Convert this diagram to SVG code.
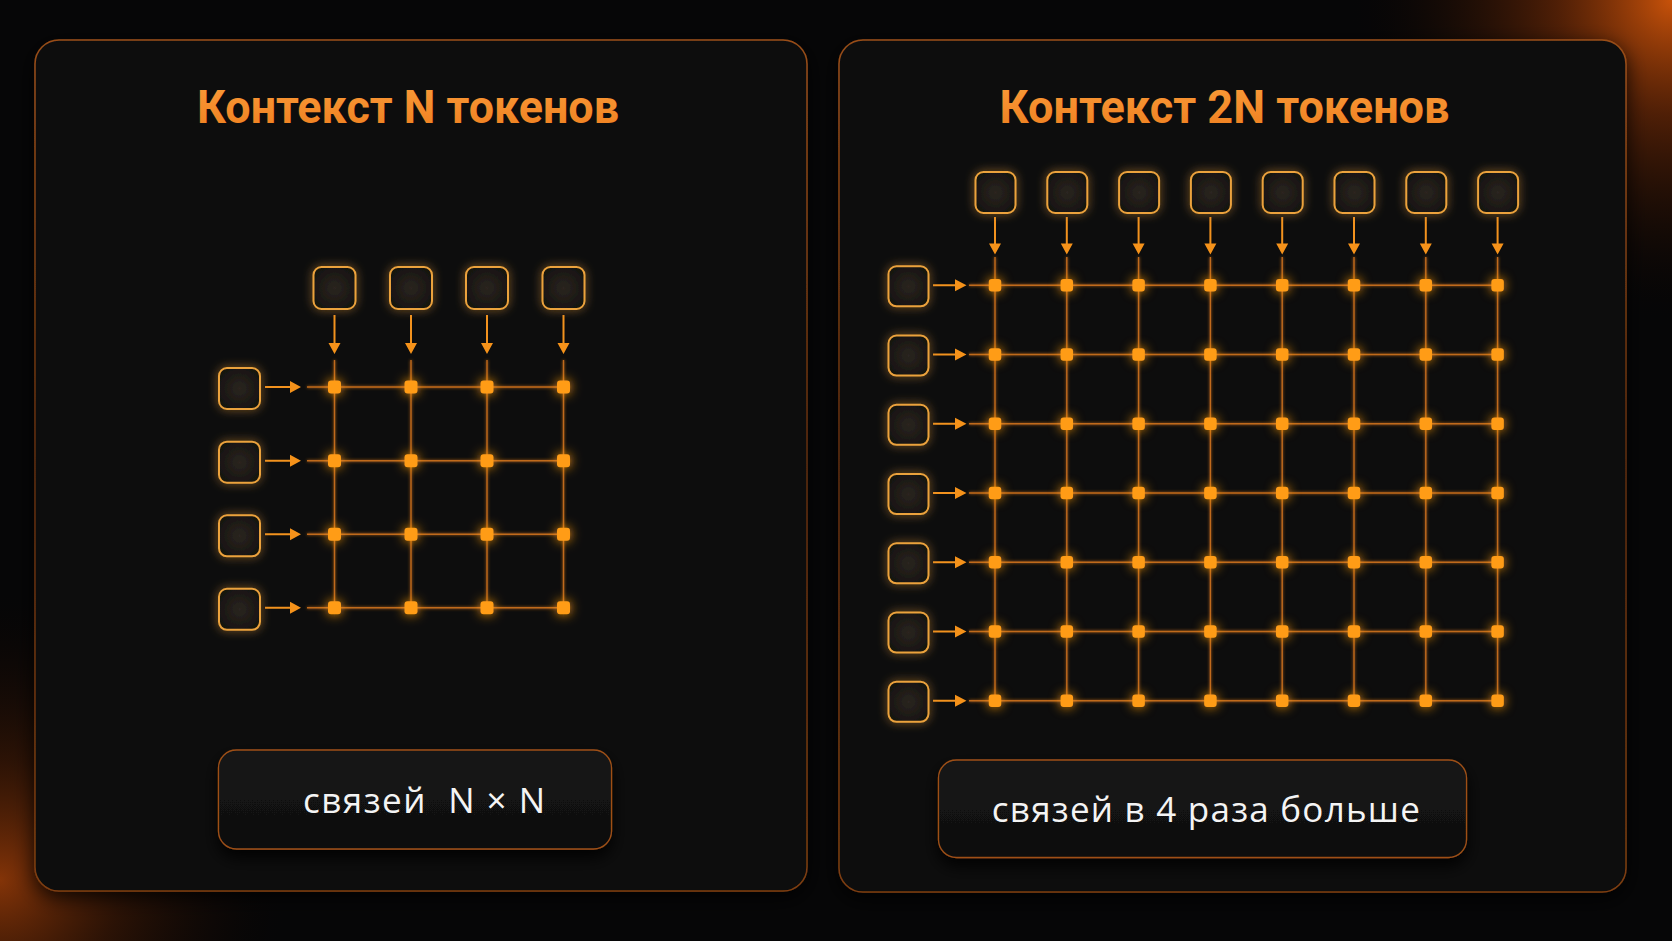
<svg xmlns="http://www.w3.org/2000/svg" width="1672" height="941" viewBox="0 0 1672 941">
<defs>
<radialGradient id="glowTR" cx="1672" cy="0" r="330" gradientUnits="userSpaceOnUse">
<stop offset="0" stop-color="#D2560A" stop-opacity="0.95"/>
<stop offset="0.35" stop-color="#8A3306" stop-opacity="0.55"/>
<stop offset="1" stop-color="#000" stop-opacity="0"/>
</radialGradient>
<radialGradient id="glowBL" cx="0" cy="880" r="300" gradientUnits="userSpaceOnUse">
<stop offset="0" stop-color="#9A3C08" stop-opacity="0.85"/>
<stop offset="0.4" stop-color="#5A2204" stop-opacity="0.45"/>
<stop offset="1" stop-color="#000" stop-opacity="0"/>
</radialGradient>
<linearGradient id="panelFill" x1="0" y1="0" x2="0" y2="1">
<stop offset="0" stop-color="#101011"/>
<stop offset="1" stop-color="#0b0b0c"/>
</linearGradient>
<linearGradient id="panelStroke" x1="0" y1="0" x2="0" y2="1">
<stop offset="0" stop-color="#9A4E18"/>
<stop offset="0.5" stop-color="#5E2C0E"/>
<stop offset="1" stop-color="#7E3E12"/>
</linearGradient>
<linearGradient id="titleFill" x1="0" y1="0" x2="0" y2="1">
<stop offset="0" stop-color="#FA9C3A"/>
<stop offset="1" stop-color="#EE7E1E"/>
</linearGradient>
<radialGradient id="tokFill" cx="0.5" cy="0.5" r="0.6">
<stop offset="0" stop-color="#2a2520"/>
<stop offset="1" stop-color="#15120f"/>
</radialGradient>
<linearGradient id="boxFill" x1="0" y1="0" x2="0" y2="1">
<stop offset="0" stop-color="#151515"/>
<stop offset="1" stop-color="#0f0f0f"/>
</linearGradient>
<filter id="panelShadow" x="-10%" y="-10%" width="120%" height="120%">
<feGaussianBlur in="SourceAlpha" stdDeviation="10"/>
<feOffset dy="6"/>
<feComponentTransfer><feFuncA type="linear" slope="0.8"/></feComponentTransfer>
<feMerge><feMergeNode/><feMergeNode in="SourceGraphic"/></feMerge>
</filter>
<filter id="boxShadow" x="-20%" y="-30%" width="140%" height="170%">
<feGaussianBlur in="SourceAlpha" stdDeviation="8"/>
<feOffset dy="8"/>
<feComponentTransfer><feFuncA type="linear" slope="0.9"/></feComponentTransfer>
<feMerge><feMergeNode/><feMergeNode in="SourceGraphic"/></feMerge>
</filter>
<filter id="glow" x="-60%" y="-60%" width="220%" height="220%">
<feGaussianBlur in="SourceGraphic" stdDeviation="5" result="b"/>
<feComponentTransfer in="b" result="b2"><feFuncA type="linear" slope="0.75"/></feComponentTransfer>
<feMerge><feMergeNode in="b2"/><feMergeNode in="SourceGraphic"/></feMerge>
</filter>
<filter id="nodeGlow" x="-150%" y="-150%" width="400%" height="400%">
<feGaussianBlur in="SourceGraphic" stdDeviation="6" result="b"/>
<feComponentTransfer in="b" result="b2"><feFuncA type="linear" slope="1"/></feComponentTransfer>
<feMerge><feMergeNode in="b2"/><feMergeNode in="SourceGraphic"/></feMerge>
</filter>
<filter id="lineGlow" x="-5%" y="-5%" width="110%" height="110%">
<feGaussianBlur in="SourceGraphic" stdDeviation="1.5" result="b"/>
<feMerge><feMergeNode in="b"/><feMergeNode in="SourceGraphic"/></feMerge>
</filter>
</defs>
<style>
.panel{fill:url(#panelFill);stroke:url(#panelStroke);stroke-width:1.5}
.title{font-family:Roboto,"Liberation Sans",sans-serif;font-weight:700;font-size:46px;fill:url(#titleFill);text-anchor:middle}
.tok{fill:url(#tokFill);stroke:#EBA23C;stroke-width:2}
.grid{stroke:#C06A1C;stroke-width:1.4;fill:none}
.arr{stroke:#F2921E;stroke-width:2;fill:none}
.head{fill:#F5921A}
.node{fill:#FF9C16}
.lbox{fill:url(#boxFill);stroke:#9E5018;stroke-width:1.3}
.label{font-family:"Open Sans","Liberation Sans",sans-serif;font-size:35px;fill:#F4F4F4;text-anchor:middle}
</style>
<rect x="0" y="0" width="1672" height="941" fill="#060607"/>
<rect x="0" y="0" width="1672" height="941" fill="url(#glowTR)"/>
<rect x="0" y="0" width="1672" height="941" fill="url(#glowBL)"/>

<g id="panel-left">
<rect class="panel" x="35" y="40" width="772" height="851" rx="24" filter="url(#panelShadow)"/>
<text class="title" x="408" y="123" textLength="422" lengthAdjust="spacingAndGlyphs">Контекст N токенов</text>
</g>
<g id="panel-right">
<rect class="panel" x="839" y="40" width="787" height="852" rx="24" filter="url(#panelShadow)"/>
<text class="title" x="1224.5" y="123" textLength="450" lengthAdjust="spacingAndGlyphs">Контекст 2N токенов</text>
</g>

<g id="connectors">
<g id="grid-left" filter="url(#lineGlow)">
<path class="grid" d="M307 387H570M307 460.7H570M307 534.3H570M307 607.8H570M334.5 360V607.8M411 360V607.8M487 360V607.8M563.5 360V607.8"/>
</g>
<g id="arrows-left">
<path class="arr" d="M334.5 315V344M411 315V344M487 315V344M563.5 315V344M265 387H291M265 460.7H291M265 534.3H291M265 607.8H291"/>
<path class="head" d="M328.5 343h12l-6 11zM405 343h12l-6 11zM481 343h12l-6 11zM557.5 343h12l-6 11zM290 381v12l11 -6zM290 454.7v12l11 -6zM290 528.3v12l11 -6zM290 601.8v12l11 -6z"/>
</g>
<g id="grid-right" filter="url(#lineGlow)">
<path class="grid" d="M969 285.3H1497.6M969 354.55H1497.6M969 423.8H1497.6M969 493.05H1497.6M969 562.3H1497.6M969 631.55H1497.6M969 700.8H1497.6M995 257V700.8M1066.8 257V700.8M1138.6 257V700.8M1210.4 257V700.8M1282.2 257V700.8M1354 257V700.8M1425.8 257V700.8M1497.6 257V700.8"/>
</g>
<g id="arrows-right">
<path class="arr" d="M995 217V244M1066.8 217V244M1138.6 217V244M1210.4 217V244M1282.2 217V244M1354 217V244M1425.8 217V244M1497.6 217V244M933 285.3H956M933 354.55H956M933 423.8H956M933 493.05H956M933 562.3H956M933 631.55H956M933 700.8H956"/>
<path class="head" d="M989 243.5h12l-6 11zM1060.8 243.5h12l-6 11zM1132.6 243.5h12l-6 11zM1204.4 243.5h12l-6 11zM1276.2 243.5h12l-6 11zM1348 243.5h12l-6 11zM1419.8 243.5h12l-6 11zM1491.6 243.5h12l-6 11zM955 279.3v12l11.5 -6zM955 348.55v12l11.5 -6zM955 417.8v12l11.5 -6zM955 487.05v12l11.5 -6zM955 556.3v12l11.5 -6zM955 625.55v12l11.5 -6zM955 694.8v12l11.5 -6z"/>
</g>
</g>

<g id="tokens-left" filter="url(#glow)">
<rect id="tl-top-1" class="tok" x="313.5" y="267" width="42" height="42" rx="8"/>
<rect id="tl-top-2" class="tok" x="390" y="267" width="42" height="42" rx="8"/>
<rect id="tl-top-3" class="tok" x="466" y="267" width="42" height="42" rx="8"/>
<rect id="tl-top-4" class="tok" x="542.5" y="267" width="42" height="42" rx="8"/>
<rect id="tl-row-1" class="tok" x="219" y="368" width="41" height="41" rx="8"/>
<rect id="tl-row-2" class="tok" x="219" y="441.7" width="41" height="41" rx="8"/>
<rect id="tl-row-3" class="tok" x="219" y="515.3" width="41" height="41" rx="8"/>
<rect id="tl-row-4" class="tok" x="219" y="588.8" width="41" height="41" rx="8"/>
</g>
<g id="nodes-left" filter="url(#nodeGlow)">
<rect class="node" x="328" y="380.5" width="13" height="13" rx="3"/>
<rect class="node" x="404.5" y="380.5" width="13" height="13" rx="3"/>
<rect class="node" x="480.5" y="380.5" width="13" height="13" rx="3"/>
<rect class="node" x="557" y="380.5" width="13" height="13" rx="3"/>
<rect class="node" x="328" y="454.2" width="13" height="13" rx="3"/>
<rect class="node" x="404.5" y="454.2" width="13" height="13" rx="3"/>
<rect class="node" x="480.5" y="454.2" width="13" height="13" rx="3"/>
<rect class="node" x="557" y="454.2" width="13" height="13" rx="3"/>
<rect class="node" x="328" y="527.8" width="13" height="13" rx="3"/>
<rect class="node" x="404.5" y="527.8" width="13" height="13" rx="3"/>
<rect class="node" x="480.5" y="527.8" width="13" height="13" rx="3"/>
<rect class="node" x="557" y="527.8" width="13" height="13" rx="3"/>
<rect class="node" x="328" y="601.3" width="13" height="13" rx="3"/>
<rect class="node" x="404.5" y="601.3" width="13" height="13" rx="3"/>
<rect class="node" x="480.5" y="601.3" width="13" height="13" rx="3"/>
<rect class="node" x="557" y="601.3" width="13" height="13" rx="3"/>
</g>

<g id="tokens-right" filter="url(#glow)">
<rect id="tr-top-1" class="tok" x="975.5" y="172" width="40" height="41" rx="8"/>
<rect id="tr-top-2" class="tok" x="1047.3" y="172" width="40" height="41" rx="8"/>
<rect id="tr-top-3" class="tok" x="1119.1" y="172" width="40" height="41" rx="8"/>
<rect id="tr-top-4" class="tok" x="1190.9" y="172" width="40" height="41" rx="8"/>
<rect id="tr-top-5" class="tok" x="1262.7" y="172" width="40" height="41" rx="8"/>
<rect id="tr-top-6" class="tok" x="1334.5" y="172" width="40" height="41" rx="8"/>
<rect id="tr-top-7" class="tok" x="1406.3" y="172" width="40" height="41" rx="8"/>
<rect id="tr-top-8" class="tok" x="1478.1" y="172" width="40" height="41" rx="8"/>
<rect id="tr-row-1" class="tok" x="888.5" y="266.3" width="40" height="40" rx="8"/>
<rect id="tr-row-2" class="tok" x="888.5" y="335.55" width="40" height="40" rx="8"/>
<rect id="tr-row-3" class="tok" x="888.5" y="404.8" width="40" height="40" rx="8"/>
<rect id="tr-row-4" class="tok" x="888.5" y="474.05" width="40" height="40" rx="8"/>
<rect id="tr-row-5" class="tok" x="888.5" y="543.3" width="40" height="40" rx="8"/>
<rect id="tr-row-6" class="tok" x="888.5" y="612.55" width="40" height="40" rx="8"/>
<rect id="tr-row-7" class="tok" x="888.5" y="681.8" width="40" height="40" rx="8"/>
</g>
<g id="nodes-right" filter="url(#nodeGlow)">
<g id="nr-row-1">
<rect class="node" x="988.75" y="279" width="12.5" height="12.5" rx="3"/>
<rect class="node" x="1060.55" y="279" width="12.5" height="12.5" rx="3"/>
<rect class="node" x="1132.35" y="279" width="12.5" height="12.5" rx="3"/>
<rect class="node" x="1204.15" y="279" width="12.5" height="12.5" rx="3"/>
<rect class="node" x="1275.95" y="279" width="12.5" height="12.5" rx="3"/>
<rect class="node" x="1347.75" y="279" width="12.5" height="12.5" rx="3"/>
<rect class="node" x="1419.55" y="279" width="12.5" height="12.5" rx="3"/>
<rect class="node" x="1491.35" y="279" width="12.5" height="12.5" rx="3"/>
</g>
<use href="#nr-row-1" y="69.25"/>
<use href="#nr-row-1" y="138.5"/>
<use href="#nr-row-1" y="207.75"/>
<use href="#nr-row-1" y="277"/>
<use href="#nr-row-1" y="346.25"/>
<use href="#nr-row-1" y="415.5"/>
</g>

<g id="label-left">
<rect class="lbox" x="218.5" y="750" width="393" height="99" rx="18" filter="url(#boxShadow)"/>
<text class="label" x="424" y="812.7" textLength="242" lengthAdjust="spacing" xml:space="preserve">связей  N × N</text>
</g>
<g id="label-right">
<rect class="lbox" x="938.5" y="760" width="528" height="97.5" rx="18" filter="url(#boxShadow)"/>
<text class="label" x="1205.8" y="822.3" textLength="428" lengthAdjust="spacing">связей в 4 раза больше</text>
</g>
</svg>
